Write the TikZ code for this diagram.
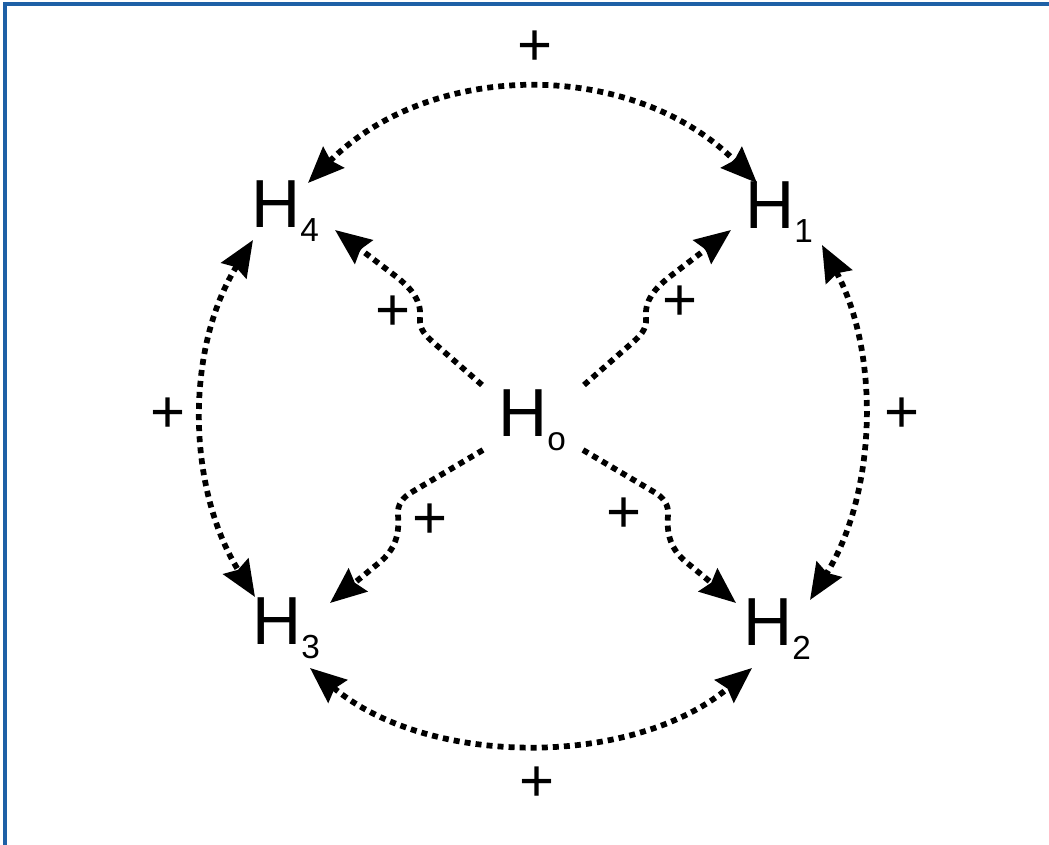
\documentclass[tikz,border=0pt]{standalone}
\usepackage{fontspec}
\setmainfont{Liberation Sans}
\usetikzlibrary{arrows.meta}
\definecolor{frameblue}{RGB}{30,96,166}
\newcommand{\hname}[1]{{\fontsize{51}{60}\selectfont H}\raisebox{-10pt}{\fontsize{25}{30}\selectfont #1}}

\begin{document}
\begin{tikzpicture}[x=.75pt,y=.75pt,>={Stealth[length=27pt,width=22pt,inset=3pt]},
  hnode/.style={anchor=base west,inner sep=0},
  plus/.style={inner sep=0,font=\fontsize{45}{54}\selectfont},
  link/.style={line width=4.3pt,dash pattern=on 4.5pt off 3.8pt,<->},
  wave/.style={line width=4.3pt,dash pattern=on 4.5pt off 3.8pt,->}]
\useasboundingbox (0,0) rectangle (1049,845);
\draw[frameblue,line width=3pt] (5,0) -- (5,841) -- (1049,841);
% the five H states
\node[hnode] (h0) at (498,408) {\hname{o}};
\node[hnode] (h1) at (745,616) {\hname{1}};
\node[hnode] (h2) at (743,199) {\hname{2}};
\node[hnode] (h3) at (252,200) {\hname{3}};
\node[hnode] (h4) at (251,617) {\hname{4}};
\foreach \p [count=\i] in {(535,797),(902,430),(537,61),(168,430),(680,542),(624,330),(430,324),(393,532)}
  \node[plus] (plus\i) at \p {+};
% outer ring
\draw[link] ([shift={(57,45)}]h4.base west) to[out=45,in=135] ([shift={(12,46)}]h1.base west);
\draw[link] ([shift={(77,-16)}]h1.base west) to[out=-62,in=58,looseness=.9] ([shift={(67,46)}]h2.base west);
\draw[link] ([shift={(58,-23)}]h3.base west) to[out=-40,in=-140,looseness=.9] ([shift={(9,-22)}]h2.base west);
\draw[link] ([shift={(2,-12)}]h4.base west) to[out=238,in=122,looseness=.92] ([shift={(3,48)}]h3.base west);
% wavy arrows out of H0
\draw[wave] ([shift={(-16,52)}]h0.base west) -- (434,502) to[out=139,in=-95] (420,527)
  to[out=85,in=-40] (398,567) -- ([shift={(84,-2)}]h4.base west);
\draw[wave] ([shift={(86,52)}]h0.base west) -- (632,502) to[out=41,in=-85] (646,527)
  to[out=95,in=-140] (668,567) -- ([shift={(-14,-1)}]h1.base west);
\draw[wave] ([shift={(-15,-13)}]h0.base west) -- (412,353) to[out=210,in=95] (398,330)
  to[out=-85,in=40] (380,283) -- ([shift={(78,42)}]h3.base west);
\draw[wave] ([shift={(85,-13)}]h0.base west) -- (654,353) to[out=-30,in=85] (668,330)
  to[out=-95,in=140] (686,283) -- ([shift={(-7,43)}]h2.base west);
\end{tikzpicture}
\end{document}
